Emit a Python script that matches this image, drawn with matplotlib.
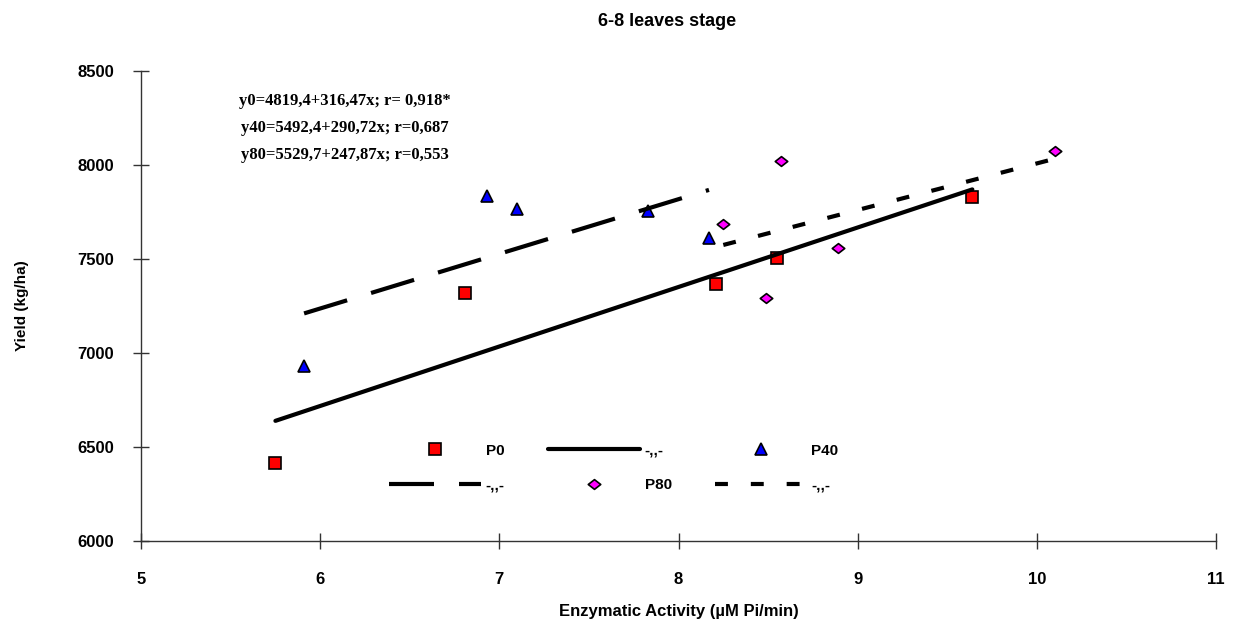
import numpy as np
import matplotlib
matplotlib.use("Agg")
import matplotlib.pyplot as plt
from matplotlib.path import Path

plt.rcParams['font.family'] = ['Liberation Sans', 'DejaVu Sans']
plt.rcParams['font.weight'] = 'bold'

# data
x_p0 = [5.75, 6.81, 8.21, 8.55, 9.64]
y_p0 = [6415, 7318, 7369, 7505, 7828]
x_p40 = [5.91, 6.93, 7.10, 7.83, 8.17]
y_p40 = [6931, 7835, 7766, 7757, 7613]
x_p80 = [8.25, 8.57, 8.49, 8.89, 10.10]
y_p80 = [7685, 8023, 7291, 7557, 8074]

# regression coefficients printed on the chart (intercept, slope)
fit_p0 = (4819.4, 316.47)
fit_p40 = (5492.4, 290.72)
fit_p80 = (5529.7, 247.87)

equations = ["y0=4819,4+316,47x; r= 0,918*",
             "y40=5492,4+290,72x; r=0,687",
             "y80=5529,7+247,87x; r=0,553"]

xticks = [5, 6, 7, 8, 9, 10, 11]
yticks = [6000, 6500, 7000, 7500, 8000, 8500]

fig = plt.figure(figsize=(12.33, 6.25), dpi=100)
ax = fig.add_axes([0.1144, 0.1344, 0.8718, 0.752])

diamond = Path([(-1, 0), (0, 0.78), (1, 0), (0, -0.78), (-1, 0)],
               [Path.MOVETO, Path.LINETO, Path.LINETO, Path.LINETO, Path.CLOSEPOLY])

def trend(xs, fit):
    xx = np.array([min(xs), max(xs)])
    return xx, fit[0] + fit[1]*xx

lw = 3.0
p0, = ax.plot(x_p0, y_p0, ls='none', marker='s', ms=9, mfc='#ff0000', mec='black', mew=1.2, label='P0')
p40, = ax.plot(x_p40, y_p40, ls='none', marker='^', ms=9, mfc='#0000ff', mec='black', mew=1.2, label='P40')
p80, = ax.plot(x_p80, y_p80, ls='none', marker=diamond, ms=9, mfc='#ff00ff', mec='black', mew=1.2, label='P80')

xx, yy = trend(x_p0, fit_p0)
l0, = ax.plot(xx, yy, color='black', lw=lw, solid_capstyle='round', label='-,,-')
xx, yy = trend(x_p40, fit_p40)
l40, = ax.plot(xx, yy, color='black', lw=lw, dashes=(10.8, 6), label='-,,-')
xx, yy = trend(x_p80, fit_p80)
l80, = ax.plot(xx, yy, color='black', lw=lw, dashes=(3.1, 5.5), label='-,,-')

ax.set_xlim(5, 11)
ax.set_ylim(6000, 8500)
ax.set_xticks(xticks)
ax.set_yticks(yticks)
ax.tick_params(direction='inout', length=11, width=1, colors='#333333', labelcolor='black',
               labelsize=12)
ax.tick_params(axis='y', pad=14)
ax.tick_params(axis='x', pad=17)
for lab in ax.get_xticklabels() + ax.get_yticklabels():
    lab.set_fontweight('bold')
for s in ['top', 'right']:
    ax.spines[s].set_visible(False)
for s in ['left', 'bottom']:
    ax.spines[s].set_color('#333333')
    ax.spines[s].set_linewidth(1.0)

ax.set_xlabel("Enzymatic Activity (µM Pi/min)", fontsize=12, fontweight='bold', labelpad=12)
ax.set_ylabel("Yield (kg/ha)", fontsize=11, fontweight='bold', labelpad=35)
fig.text(0.541, 0.965, "6-8 leaves stage", ha='center', va='center', fontsize=13, fontweight='bold')

eq_y = [0.936, 0.879, 0.821]
for t, yy_ in zip(equations, eq_y):
    ax.text(0.19, yy_, t, transform=ax.transAxes, ha='center', va='center',
            fontsize=12, fontweight='bold', family=['Liberation Serif', 'DejaVu Serif'])

handles = [p0, l40, l0, p80, p40, l80]
labels = ['P0', '-,,-', '-,,-', 'P80', 'P40', '-,,-']
leg = ax.legend(handles, labels, ncol=3, loc='center', bbox_to_anchor=(0.44, 0.155),
                frameon=False, fontsize=11, handlelength=6.0, handletextpad=0.3,
                columnspacing=2.85, labelspacing=1.35, numpoints=1)
for t in leg.get_texts():
    t.set_fontweight('bold')

fig.savefig("out.png", dpi=100)
